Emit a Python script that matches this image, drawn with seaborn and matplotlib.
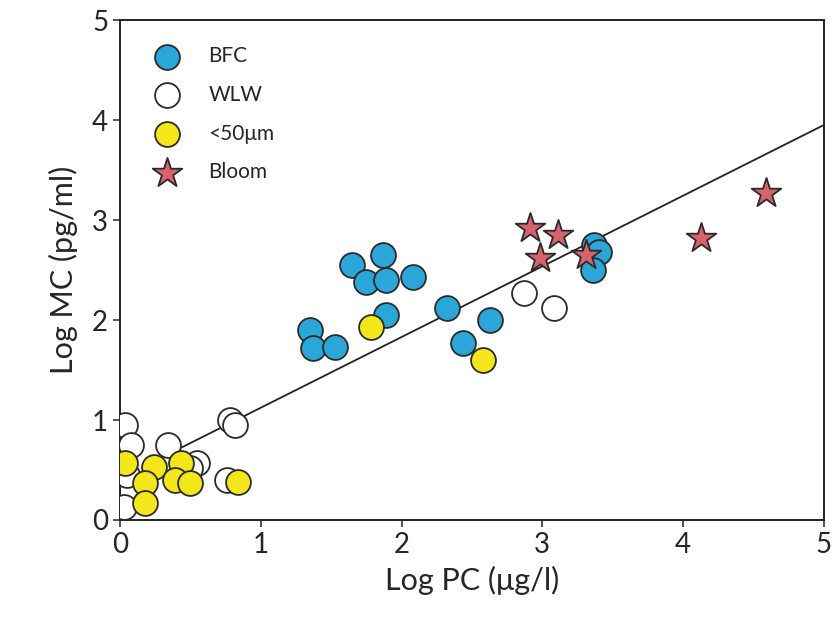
import numpy as np
import pandas as pd
import matplotlib
matplotlib.use("Agg")
import matplotlib.pyplot as plt
import seaborn as sns

# data (Log PC, Log MC)
bfc_x = [1.645, 1.87, 1.75, 1.89, 2.08, 1.89, 1.35, 1.37, 1.53, 2.32, 2.63, 2.44, 3.37, 3.40, 3.36]
bfc_y = [2.55, 2.65, 2.38, 2.40, 2.43, 2.05, 1.90, 1.72, 1.73, 2.12, 2.00, 1.77, 2.75, 2.68, 2.50]

wlw_x = [0.035, 0.08, 0.025, 0.34, 0.78, 0.82, 0.545, 0.76, 0.05, 0.50, 2.87, 3.08]
wlw_y = [0.95, 0.75, 0.13, 0.75, 1.00, 0.95, 0.57, 0.40, 0.45, 0.52, 2.27, 2.12]

small_x = [0.035, 0.24, 0.43, 0.39, 0.50, 0.18, 0.18, 0.84, 1.78, 2.58]
small_y = [0.57, 0.53, 0.57, 0.40, 0.37, 0.37, 0.17, 0.38, 1.93, 1.60]

bloom_x = [2.91, 3.11, 2.98, 3.31, 4.13, 4.59]
bloom_y = [2.92, 2.85, 2.62, 2.65, 2.82, 3.27]

# regression line as drawn
fit_x = [0.43, 5.0]
fit_slope = 0.707
fit_intercept = 0.416

sns.set_style("ticks")
plt.rcParams['font.family'] = ['Lato', 'DejaVu Sans']

fig = plt.figure(figsize=(8.35, 6.29), dpi=100)
ax = fig.add_axes([0.1437, 0.1733, 0.843, 0.7947])

fit_df = pd.DataFrame({'x': fit_x})
fit_df['y'] = fit_intercept + fit_slope * fit_df['x']
sns.lineplot(data=fit_df, x='x', y='y', color='#222222', linewidth=1.3, ax=ax, zorder=1)

groups = [
    ("BFC", bfc_x, bfc_y, '#2ba6d9', 'o', 320),
    ("WLW", wlw_x, wlw_y, 'white', 'o', 320),
    ("<50\u03bcm", small_x, small_y, '#f3e61a', 'o', 320),
    ("Bloom", bloom_x, bloom_y, '#d8636f', '*', 500),
]
for i, (name, gx, gy, col, mk, s) in enumerate(groups):
    d = pd.DataFrame({'x': gx, 'y': gy})
    sns.scatterplot(data=d, x='x', y='y', color=col, marker=mk, s=s,
                    edgecolor='#2a2a2a', linewidth=1.3, label=name, ax=ax,
                    zorder=2 + i)

ax.set_xlim(0, 5)
ax.set_ylim(0, 5)
ax.set_xticks(range(6))
ax.set_yticks(range(6))
ax.tick_params(labelsize=20, length=5, width=1.2, color='#333333')
for sp in ax.spines.values():
    sp.set_linewidth(1.4)
    sp.set_color('#222222')
ax.set_xlabel("Log PC (\u03bcg/l)", fontsize=22, labelpad=6)
ax.set_ylabel("Log MC (pg/ml)", fontsize=22, labelpad=10)

leg = ax.legend(loc='upper left', frameon=False, fontsize=15, handletextpad=1.0,
                labelspacing=0.9, borderaxespad=0.5, borderpad=0.75, markerscale=1.0)

fig.savefig("out.png", dpi=100)
plt.close(fig)
